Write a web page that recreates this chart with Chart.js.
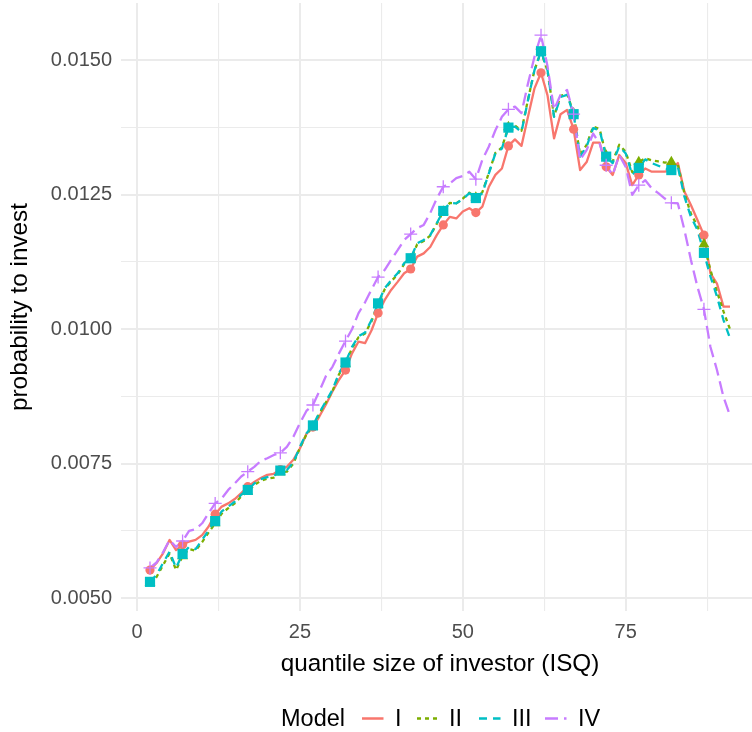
<!DOCTYPE html>
<html>
<head>
<meta charset="utf-8">
<title>Probability to invest by investor size quantile</title>
<script src="https://cdn.jsdelivr.net/npm/chart.js@4.4.1/dist/chart.umd.min.js"></script>
<style>
  html, body { margin: 0; padding: 0; background: #ffffff; overflow: hidden; }
  #wrap { width: 759px; height: 732px; }
</style>
</head>
<body>
<div id="wrap"><canvas id="chart" width="759" height="732"></canvas></div>
<script>
// Quantile size of investor (ISQ)
const isq = [2, 3, 4, 5, 6, 7, 8, 9, 10, 11, 12, 13, 14, 15, 16, 17, 18, 19, 20, 21,
  22, 23, 24, 25, 26, 27, 28, 29, 30, 31, 32, 33, 34, 35, 36, 37, 38, 39, 40, 41,
  42, 43, 44, 45, 46, 47, 48, 49, 50, 51, 52, 53, 54, 55, 56, 57, 58, 59, 60, 61,
  62, 63, 64, 65, 66, 67, 68, 69, 70, 71, 72, 73, 74, 75, 76, 77, 78, 79, 80, 81,
  82, 83, 84, 85, 86, 87, 88, 89, 90, 91];

// Probability to invest, one array per model
const modelI = [0.00552, 0.00565, 0.00583, 0.00608, 0.00589, 0.00599, 0.00605, 0.00608, 0.00617, 0.00633,
  0.00656, 0.00670, 0.00676, 0.00684, 0.00695, 0.00707, 0.00716, 0.00723, 0.00729, 0.00731,
  0.00739, 0.00744, 0.00757, 0.00778, 0.00805, 0.00818, 0.00838, 0.00860, 0.00884, 0.00906,
  0.00924, 0.00955, 0.00977, 0.00974, 0.00998, 0.01030, 0.01054, 0.01073, 0.01088, 0.01104,
  0.01112, 0.01135, 0.01141, 0.01153, 0.01175, 0.01194, 0.01209, 0.01206, 0.01219, 0.01225,
  0.01217, 0.01228, 0.01265, 0.01287, 0.01299, 0.01341, 0.01353, 0.01341, 0.01395, 0.01448,
  0.01477, 0.01435, 0.01355, 0.01400, 0.01408, 0.01372, 0.01296, 0.01311, 0.01347, 0.01347,
  0.01302, 0.01287, 0.01324, 0.01309, 0.01268, 0.01287, 0.01299, 0.01293, 0.01293, 0.01293,
  0.01296, 0.01309, 0.01256, 0.01231, 0.01203, 0.01175, 0.01104, 0.01085, 0.01042, 0.01042];

const modelII = [0.00528, 0.00539, 0.00561, 0.00583, 0.00552, 0.00578, 0.00591, 0.00588, 0.00604, 0.00622,
  0.00639, 0.00657, 0.00667, 0.00676, 0.00689, 0.00698, 0.00710, 0.00718, 0.00722, 0.00724,
  0.00734, 0.00735, 0.00750, 0.00779, 0.00804, 0.00819, 0.00843, 0.00864, 0.00885, 0.00916,
  0.00936, 0.00965, 0.00985, 0.00992, 0.01015, 0.01046, 0.01074, 0.01089, 0.01102, 0.01121,
  0.01130, 0.01158, 0.01164, 0.01174, 0.01196, 0.01219, 0.01235, 0.01234, 0.01243, 0.01254,
  0.01245, 0.01255, 0.01291, 0.01328, 0.01338, 0.01376, 0.01379, 0.01369, 0.01427, 0.01482,
  0.01516, 0.01481, 0.01396, 0.01434, 0.01438, 0.01402, 0.01324, 0.01343, 0.01377, 0.01372,
  0.01323, 0.01312, 0.01343, 0.01330, 0.01292, 0.01311, 0.01318, 0.01314, 0.01312, 0.01310,
  0.01311, 0.01306, 0.01253, 0.01215, 0.01192, 0.01158, 0.01110, 0.01070, 0.01033, 0.01000];

const modelIII = [0.00530, 0.00543, 0.00565, 0.00586, 0.00556, 0.00582, 0.00595, 0.00591, 0.00608, 0.00626,
  0.00643, 0.00661, 0.00670, 0.00679, 0.00692, 0.00701, 0.00713, 0.00721, 0.00725, 0.00727,
  0.00737, 0.00738, 0.00752, 0.00781, 0.00806, 0.00821, 0.00845, 0.00866, 0.00887, 0.00918,
  0.00938, 0.00967, 0.00987, 0.00994, 0.01017, 0.01048, 0.01076, 0.01091, 0.01104, 0.01123,
  0.01132, 0.01160, 0.01166, 0.01175, 0.01197, 0.01220, 0.01235, 0.01234, 0.01242, 0.01253,
  0.01244, 0.01253, 0.01290, 0.01327, 0.01336, 0.01375, 0.01377, 0.01367, 0.01426, 0.01482,
  0.01517, 0.01482, 0.01395, 0.01432, 0.01436, 0.01400, 0.01321, 0.01340, 0.01374, 0.01370,
  0.01321, 0.01309, 0.01340, 0.01327, 0.01287, 0.01300, 0.01316, 0.01309, 0.01304, 0.01299,
  0.01296, 0.01302, 0.01247, 0.01209, 0.01185, 0.01142, 0.01098, 0.01061, 0.01017, 0.00983];

const modelIV = [0.00556, 0.00566, 0.00585, 0.00608, 0.00595, 0.00606, 0.00625, 0.00628, 0.00639, 0.00658,
  0.00676, 0.00685, 0.00701, 0.00713, 0.00726, 0.00735, 0.00744, 0.00755, 0.00760, 0.00766,
  0.00770, 0.00781, 0.00800, 0.00825, 0.00848, 0.00859, 0.00885, 0.00913, 0.00930, 0.00955,
  0.00978, 0.01000, 0.01030, 0.01050, 0.01074, 0.01097, 0.01110, 0.01129, 0.01147, 0.01166,
  0.01177, 0.01188, 0.01194, 0.01216, 0.01243, 0.01265, 0.01271, 0.01281, 0.01285, 0.01293,
  0.01279, 0.01315, 0.01340, 0.01370, 0.01395, 0.01409, 0.01414, 0.01402, 0.01457, 0.01507,
  0.01547, 0.01489, 0.01408, 0.01436, 0.01445, 0.01400, 0.01315, 0.01333, 0.01364, 0.01345,
  0.01305, 0.01287, 0.01324, 0.01302, 0.01250, 0.01268, 0.01277, 0.01262, 0.01253, 0.01243,
  0.01235, 0.01234, 0.01185, 0.01129, 0.01079, 0.01037, 0.00967, 0.00924, 0.00874, 0.00839];

const modelNames = ['I', 'II', 'III', 'IV'];

// Labelled ticks and the lighter in-between grid lines
const xTickLabels = [0, 25, 50, 75];
const xGridValues = [0, 12.5, 25, 37.5, 50, 62.5, 75, 87.5];
const yTickLabels = [0.0050, 0.0075, 0.0100, 0.0125, 0.0150];
const yGridValues = [0.0050, 0.00625, 0.0075, 0.00875, 0.0100, 0.01125, 0.0125, 0.01375, 0.0150];

// ---------------------------------------------------------------------------
const FONT = '"Liberation Sans", Arial, Helvetica, sans-serif';
const colors = ['#F8766D', '#7CAE00', '#00BFC4', '#C77CFF'];
const dashes = [[], [4, 4], [8, 6], [13, 6]];
const shapes = ['circle', 'triangle', 'rect', 'cross'];
const radii = [4.6, 6.2, 7.2, 6.5];
const series = [modelI, modelII, modelIII, modelIV];

const isMajor = (v, list) => list.some(t => Math.abs(t - v) < 1e-9);

// Markers sit on every fifth quantile, starting from the first one
const markerData = vals => isq.map((x, k) => ({ x, y: vals[k] }))
  .filter(p => (p.x - isq[0]) % 5 === 0);

const datasets = [];
// Chart.js paints dataset 0 last, so markers come first (IV on top), then lines
for (let i = 3; i >= 0; i--) {
  datasets.push({
    label: modelNames[i] + ' markers',
    data: markerData(series[i]),
    showLine: false,
    pointStyle: shapes[i],
    pointRadius: radii[i],
    pointHoverRadius: radii[i],
    pointBackgroundColor: colors[i],
    pointBorderColor: colors[i],
    pointBorderWidth: i === 3 ? 1.3 : 0
  });
}
for (let i = 3; i >= 0; i--) {
  datasets.push({
    label: modelNames[i],
    data: isq.map((x, k) => ({ x, y: series[i][k] })),
    borderColor: colors[i],
    borderWidth: 2.3,
    borderDash: dashes[i],
    borderCapStyle: 'butt',
    borderJoinStyle: 'round',
    pointRadius: 0,
    pointHoverRadius: 0,
    tension: 0,
    fill: false
  });
}

// Legend row: "Model" followed by a line key for each model
const modelLegend = {
  id: 'modelLegend',
  afterDraw(chart) {
    const ctx = chart.ctx;
    const base = 726;
    const keyY = 718.5;
    const keyX = [362, 417, 479, 545];
    const textX = [395, 449, 512, 578];
    ctx.save();
    ctx.fillStyle = '#000000';
    ctx.font = '23.5px ' + FONT;
    ctx.textBaseline = 'alphabetic';
    ctx.textAlign = 'left';
    ctx.fillText('Model', 281, base);
    for (let i = 0; i < 4; i++) {
      ctx.beginPath();
      ctx.strokeStyle = colors[i];
      ctx.lineWidth = 2.5;
      ctx.setLineDash(dashes[i]);
      ctx.moveTo(keyX[i], keyY);
      ctx.lineTo(keyX[i] + 21.5, keyY);
      ctx.stroke();
      ctx.setLineDash([]);
      ctx.fillStyle = '#000000';
      ctx.fillText(modelNames[i], textX[i], base);
    }
    ctx.restore();
  }
};

new Chart(document.getElementById('chart'), {
  type: 'line',
  data: { datasets },
  plugins: [modelLegend],
  options: {
    responsive: false,
    animation: false,
    events: [],
    layout: { autoPadding: false, padding: { top: 3, right: 0, bottom: 53, left: 0 } },
    plugins: { legend: { display: false }, tooltip: { enabled: false } },
    scales: {
      x: {
        type: 'linear',
        min: -2.45,
        max: 95.45,
        afterBuildTicks(scale) { scale.ticks = xGridValues.map(v => ({ value: v })); },
        afterFit(scale) {
          scale.height = 68;
          scale.paddingLeft = 0; scale.paddingRight = 0;
        },
        ticks: {
          autoSkip: false,
          maxRotation: 0,
          padding: 9,
          color: '#4D4D4D',
          font: { family: FONT, size: 20 },
          callback: v => isMajor(v, xTickLabels) ? String(v) : ''
        },
        grid: {
          color: '#EBEBEB',
          drawTicks: false,
          lineWidth: c => (c.tick && isMajor(c.tick.value, xTickLabels)) ? 2 : 1.1
        },
        border: { display: false },
        title: {
          display: true,
          text: 'quantile size of investor (ISQ)',
          color: '#000000',
          font: { family: FONT, size: 24.3 },
          padding: { top: 0, bottom: 0 }
        }
      },
      y: {
        type: 'linear',
        min: 0.004758,
        max: 0.016068,
        afterBuildTicks(scale) { scale.ticks = yGridValues.map(v => ({ value: v })); },
        afterFit(scale) {
          scale.width = 121;
          scale.paddingTop = 0; scale.paddingBottom = 0;
        },
        ticks: {
          autoSkip: false,
          padding: 9,
          color: '#4D4D4D',
          font: { family: FONT, size: 20 },
          callback: v => isMajor(v, yTickLabels) ? v.toFixed(4) : ''
        },
        grid: {
          color: '#EBEBEB',
          drawTicks: false,
          lineWidth: c => (c.tick && isMajor(c.tick.value, yTickLabels)) ? 2 : 1.1
        },
        border: { display: false },
        title: {
          display: true,
          text: 'probability to invest',
          color: '#000000',
          font: { family: FONT, size: 24.3 },
          padding: { top: 6, bottom: 0 }
        }
      }
    }
  }
});
</script>
</body>
</html>
